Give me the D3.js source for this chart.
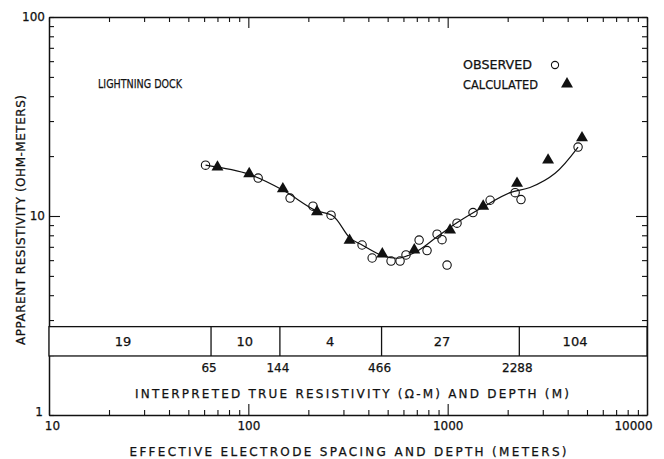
<!DOCTYPE html>
<html>
<head>
<meta charset="utf-8">
<script src="https://cdn.jsdelivr.net/npm/d3@7"></script>
<style>
body { margin: 0; background: #fff; }
text { font-family: "DejaVu Sans", sans-serif; fill: #111; stroke: #111; stroke-width: 0.25; }
</style>
</head>
<body>
<div id="chart"></div>
<script>
// observed apparent resistivity (spacing m, ohm-m)
const obsSpacing = [61, 112, 162, 211, 260, 372, 418, 520, 577, 618, 719, 788, 885, 937, 993, 1114, 1340, 1633, 2180, 2333, 4510];
const obsRho     = [18.0, 15.5, 12.3, 11.2, 10.1, 7.15, 6.15, 5.94, 5.94, 6.37, 7.57, 6.7, 8.1, 7.6, 5.67, 9.2, 10.4, 12.0, 13.1, 12.1, 22.2];

// calculated values
const calcSpacing = [70, 101, 149, 221, 322, 470, 680, 1028, 1507, 2228, 3190, 4720];
const calcRho     = [17.6, 16.3, 13.7, 10.5, 7.55, 6.44, 6.75, 8.5, 11.2, 14.6, 19.1, 24.7];

// smooth fitted curve
const curveSpacing = [61, 101, 149, 216, 266, 324, 372, 474, 577, 719, 895, 1127, 1507, 2056, 2588, 3459, 4510];
const curveRho     = [18.0, 16.2, 13.5, 10.7, 10.0, 7.74, 7.15, 6.30, 6.15, 6.75, 7.93, 9.33, 11.1, 13.1, 13.9, 16.4, 22.2];

// interpreted layers
const layerDepths = [65, 144, 466, 2288];
const layerRho = ["19", "10", "4", "27", "104"];
const layerLabelAt = [23.5, 96, 257, 937, 4355];
const bandRange = [1.98, 2.78];

const xMajor = [10, 100, 1000, 10000];
const yMajor = [1, 10, 100];

function add() {
  let width = 664;
  let height = 459;
  let svg = d3.select("#chart").append("svg")
    .attr("width", width)
    .attr("height", height);
  return { svg, width, height };
}

let { svg } = add();

const x = d3.scaleLog().domain([10, 10000]).range([49, 647]);
const y = d3.scaleLog().domain([1, 100]).range([415, 17]);

function minorTicks(lo, hi) {
  let t = [];
  for (let p = lo; p < hi; p *= 10)
    for (let m = 1; m <= 10; m++) t.push(p * m);
  return Array.from(new Set(t));
}
const xTicks = minorTicks(10, 10000);
const yTicks = minorTicks(1, 100);

function styleAxis(g, majors) {
  g.select(".domain").attr("stroke", "#111").attr("stroke-width", 1.5);
  g.selectAll(".tick line").attr("stroke", "#111").attr("stroke-width", 1.1);
  g.selectAll(".tick text").attr("font-size", 12).attr("fill", "#111");
  g.selectAll(".tick").filter(d => !majors.includes(d)).select("text").remove();
}

let fmt = d => xMajor.includes(d) || yMajor.includes(d) ? String(d) : "";

// bottom
let gb = svg.append("g").attr("transform", `translate(0,${y(1)})`)
  .call(d3.axisBottom(x).tickValues(xTicks).tickFormat(fmt).tickSizeInner(-5).tickSizeOuter(0).tickPadding(6));
styleAxis(gb, xMajor);
gb.selectAll(".tick").filter(d => d == 100 || d == 1000).select("line").attr("y2", -11);
gb.selectAll(".tick").filter(d => d == 10).select("text").attr("dx", 3);
gb.selectAll(".tick").filter(d => d == 10000).select("text").attr("dx", -14);

// top
let gt = svg.append("g").attr("transform", `translate(0,${y(100)})`)
  .call(d3.axisTop(x).tickValues(xTicks).tickFormat("").tickSizeInner(-5).tickSizeOuter(0));
styleAxis(gt, []);
gt.selectAll(".tick").filter(d => d == 100 || d == 1000).select("line").attr("y2", 11);

// left
let gl = svg.append("g").attr("transform", `translate(${x(10)},0)`)
  .call(d3.axisLeft(y).tickValues(yTicks).tickFormat(fmt).tickSizeInner(-5).tickSizeOuter(0).tickPadding(4));
styleAxis(gl, yMajor);
gl.selectAll(".tick").filter(d => d == 10).select("line").attr("x2", 11);
gl.selectAll(".tick").filter(d => d == 1).select("text").attr("dx", -2).attr("dy", "0.05em");

// right
let gr = svg.append("g").attr("transform", `translate(${x(10000)},0)`)
  .call(d3.axisRight(y).tickValues(yTicks).tickFormat("").tickSizeInner(-5).tickSizeOuter(0));
styleAxis(gr, []);
gr.selectAll(".tick").filter(d => d == 10).select("line").attr("x2", -11);

// layer band
svg.append("rect")
  .attr("x", x(10)).attr("width", x(10000) - x(10))
  .attr("y", y(bandRange[1])).attr("height", y(bandRange[0]) - y(bandRange[1]))
  .attr("fill", "#fff").attr("stroke", "#111").attr("stroke-width", 1.3);

svg.selectAll("line.div").data(layerDepths).enter().append("line")
  .attr("x1", d => x(d)).attr("x2", d => x(d))
  .attr("y1", y(bandRange[1])).attr("y2", y(bandRange[0]))
  .attr("stroke", "#111").attr("stroke-width", 1.3);

svg.selectAll("text.layer").data(layerRho).enter().append("text")
  .attr("x", (d, i) => x(layerLabelAt[i]))
  .attr("y", (y(bandRange[0]) + y(bandRange[1])) / 2 + 5)
  .attr("text-anchor", "middle").attr("font-size", 13)
  .text(d => d);

svg.selectAll("text.depth").data(layerDepths).enter().append("text")
  .attr("x", d => x(d) - 2)
  .attr("y", y(bandRange[0]) + 16)
  .attr("text-anchor", "middle").attr("font-size", 12)
  .text(d => d);

svg.append("text")
  .attr("x", 352).attr("y", 398)
  .attr("text-anchor", "middle").attr("font-size", 12)
  .attr("textLength", 434).attr("lengthAdjust", "spacing")
  .text("INTERPRETED TRUE RESISTIVITY (Ω-M) AND DEPTH (M)");

// fitted curve
let line = d3.line().x(d => x(d[0])).y(d => y(d[1])).curve(d3.curveCatmullRom);
svg.append("path")
  .datum(curveSpacing.map((s, i) => [s, curveRho[i]]))
  .attr("d", line).attr("fill", "none").attr("stroke", "#111").attr("stroke-width", 1.2);

// markers
let tri = d3.symbol().type(d3.symbolTriangle).size(62);
svg.selectAll("path.calc").data(calcSpacing).enter().append("path")
  .attr("d", tri)
  .attr("transform", (d, i) => `translate(${x(d)},${y(calcRho[i])})`)
  .attr("fill", "#111");

svg.selectAll("circle.obs").data(obsSpacing).enter().append("circle")
  .attr("cx", d => x(d))
  .attr("cy", (d, i) => y(obsRho[i]))
  .attr("r", 4.2)
  .attr("fill", "none").attr("stroke", "#111").attr("stroke-width", 1.1);

// title and legend
svg.append("text").attr("x", 98).attr("y", 88).attr("font-size", 13)
  .attr("textLength", 84).attr("lengthAdjust", "spacingAndGlyphs")
  .text("LIGHTNING DOCK");

svg.append("text").attr("x", 463).attr("y", 69).attr("font-size", 12)
  .attr("textLength", 69).attr("lengthAdjust", "spacingAndGlyphs").text("OBSERVED");
svg.append("circle").attr("cx", 555).attr("cy", 65).attr("r", 3.6)
  .attr("fill", "none").attr("stroke", "#111").attr("stroke-width", 1.1);
svg.append("text").attr("x", 463).attr("y", 89).attr("font-size", 12)
  .attr("textLength", 75).attr("lengthAdjust", "spacingAndGlyphs").text("CALCULATED");
svg.append("path").attr("d", tri).attr("transform", "translate(567,84)").attr("fill", "#111");

// axis titles
svg.append("text").attr("x", 348).attr("y", 456)
  .attr("text-anchor", "middle").attr("font-size", 12)
  .attr("textLength", 437).attr("lengthAdjust", "spacing")
  .text("EFFECTIVE ELECTRODE SPACING AND DEPTH (METERS)");

svg.append("text")
  .attr("transform", "translate(25,220) rotate(-90)")
  .attr("text-anchor", "middle").attr("font-size", 12)
  .attr("textLength", 250).attr("lengthAdjust", "spacing")
  .text("APPARENT RESISTIVITY (OHM-METERS)");
</script>
</body>
</html>
